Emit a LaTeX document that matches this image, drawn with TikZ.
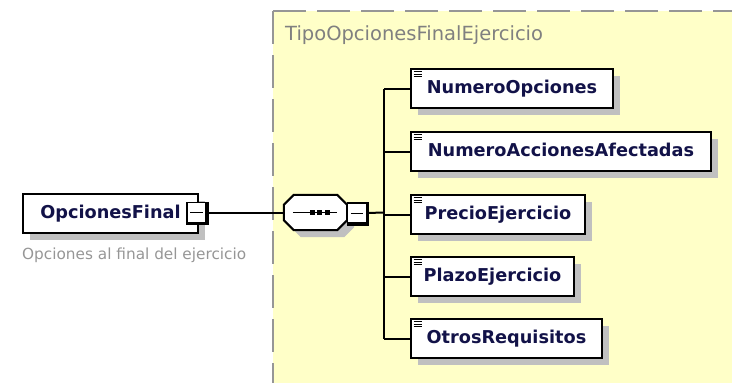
\documentclass[tikz,border=0pt]{standalone}
\usepackage{fontspec}
\setmainfont{DejaVu Sans}
\usetikzlibrary{shadows}
\definecolor{bgyellow}{RGB}{255,255,200}
\definecolor{shadowc}{RGB}{192,192,192}
\definecolor{namec}{RGB}{18,18,72}
\definecolor{titlec}{RGB}{128,128,128}
\definecolor{descc}{RGB}{150,150,150}
\definecolor{borderc}{RGB}{150,150,150}
\tikzset{
  shadowed/.style={drop shadow={shadow xshift=7pt, shadow yshift=-7pt, fill=shadowc, opacity=1}},
  elem/.style={draw=black, line width=2pt, fill=white, inner sep=0pt, minimum height=39pt,
    anchor=north west, font=\fontsize{17.7}{20}\selectfont\bfseries, text=namec,
    text height=13pt, text depth=4pt, shadowed},
  conn/.style={draw=black, line width=2pt},
  minusbox/.style={draw=black, line width=1.2pt, fill=white, inner sep=0pt, minimum width=19pt, minimum height=20pt},
  icon/.style={line width=1pt},
  frame/.style={borderc, line width=2pt, dash pattern=on 33pt off 11pt},
}
\begin{document}
\begin{tikzpicture}[x=1pt,y=-1pt]
\useasboundingbox (0,0) rectangle (732,383);
% type region
\fill[bgyellow] (273,11) rectangle (732,383);
\draw[frame] (273,11) -- (732,11);
\draw[frame] (273,11) -- (273,383);
\node[anchor=base west, inner sep=0pt, font=\fontsize{19.5}{22}\selectfont, text=titlec] (title) at (285,40) {TipoOpcionesFinalEjercicio};

% root element
\node[elem, minimum width=175pt] (of) at (22,193) {OpcionesFinal};
\node[minusbox] (ofm) at (196.5,212.5) {};
\draw[line width=2.5pt] ([xshift=1pt]ofm.north east) -- ([xshift=1pt,yshift=-1pt]ofm.south east) -- ([yshift=-1pt]ofm.south west);
\draw[line width=1pt] ([xshift=4pt]ofm.west) -- ([xshift=-4pt]ofm.east);
\node[anchor=base west, inner sep=0pt, font=\fontsize{15.3}{18}\selectfont, text=descc] (desc) at (22,259) {Opciones al final del ejercicio};

% sequence compositor
\node[inner sep=0pt, minimum width=63pt, minimum height=35pt] (seq) at (315.5,212.5) {};
\draw[line width=2pt, fill=white, shadowed]
  ([xshift=10pt]seq.north west) -- ([xshift=-10pt]seq.north east) -- ([yshift=-10pt]seq.north east)
  -- ([yshift=10pt]seq.south east) -- ([xshift=-10pt]seq.south east) -- ([xshift=10pt]seq.south west)
  -- ([yshift=10pt]seq.south west) -- ([yshift=-10pt]seq.north west) -- cycle;
\draw[line width=1.5pt] ([xshift=9pt]seq.west) -- ([xshift=-10pt]seq.east);
\foreach \dx in {-3.5,4,11.5}
  \fill ([xshift=\dx pt]seq.center) +(-2.5pt,-2.5pt) rectangle +(2.5pt,2.5pt);
\node[minusbox] (seqm) at (357,213) {};
\draw[line width=2.5pt] ([xshift=1pt]seqm.north east) -- ([xshift=1pt,yshift=-1pt]seqm.south east) -- ([yshift=-1pt]seqm.south west);
\draw[line width=1pt] ([xshift=4pt]seqm.west) -- ([xshift=-4pt]seqm.east);
\coordinate (bus) at (384,212.5);

% children
\node[elem, minimum width=202pt] (c1) at (410,68) {NumeroOpciones};
\node[elem, minimum width=300pt] (c2) at (410,131) {NumeroAccionesAfectadas};
\node[elem, minimum width=174pt] (c3) at (410,194) {PrecioEjercicio};
\node[elem, minimum width=163pt] (c4) at (410,256) {PlazoEjercicio};
\node[elem, minimum width=191pt] (c5) at (410,318) {OtrosRequisitos};
\foreach \n in {c1,c2,c3,c4,c5}
  \foreach \k in {0,1,2}
    \draw[icon] ([xshift=3.5pt,yshift={-(3.5+2.5*\k)*1pt}]\n.north west) -- ++(8pt,0pt);

% connectors
\draw[conn] (ofm.east) -- (seq.west);
\draw[conn] (seqm.east) -- (bus);
\draw[conn] (bus |- c1.west) -- (bus |- c5.west);
\foreach \n in {c1,c2,c3,c4,c5}
  \draw[conn] (bus |- \n.west) -- (\n.west);
\end{tikzpicture}
\end{document}
